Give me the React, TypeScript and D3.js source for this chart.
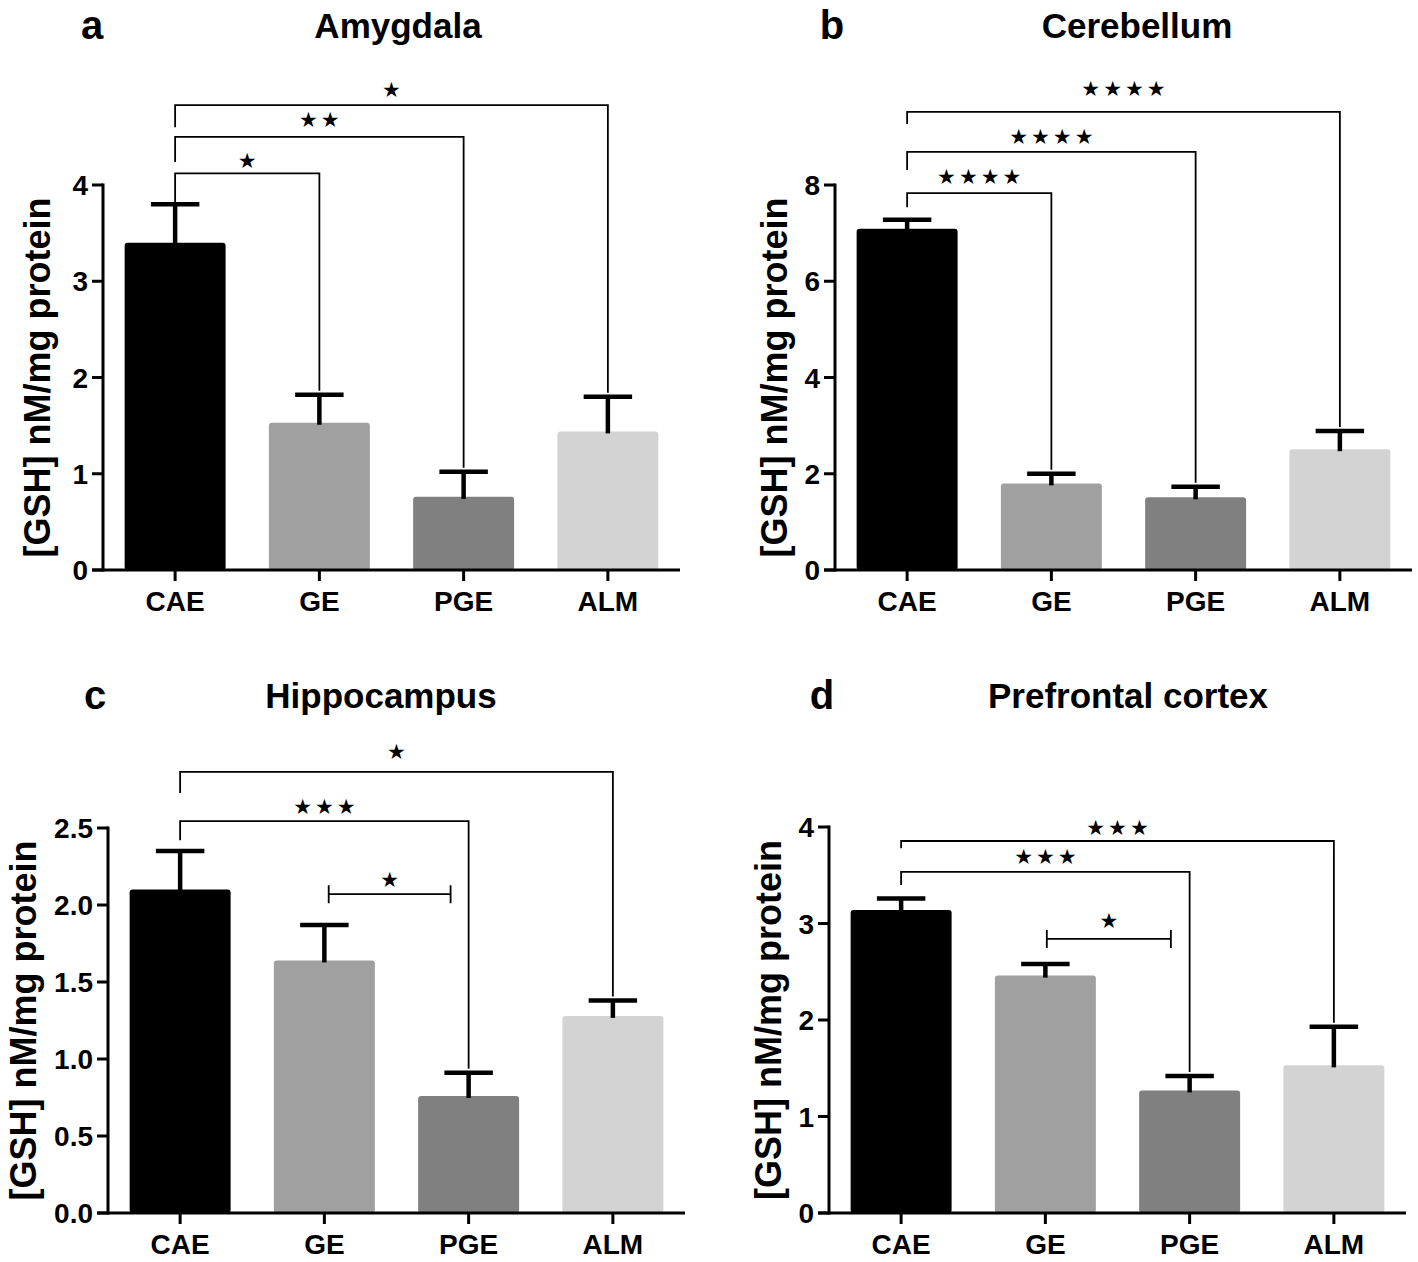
import React, { useEffect, useRef } from "react";
import * as d3 from "d3";

// groups and fill colours
const groups = ["CAE", "GE", "PGE", "ALM"];
const groupColors = ["#000000", "#a0a0a0", "#808080", "#d3d3d3"];

// mean values and mean + SEM (top of error bar), nM/mg protein
const amygdalaMeans = [3.4, 1.53, 0.76, 1.44];
const amygdalaErrTop = [3.8, 1.82, 1.02, 1.8];
const cerebellumMeans = [7.09, 1.8, 1.51, 2.51];
const cerebellumErrTop = [7.28, 2.0, 1.73, 2.89];
const hippocampusMeans = [2.1, 1.64, 0.76, 1.28];
const hippocampusErrTop = [2.35, 1.87, 0.91, 1.38];
const prefrontalMeans = [3.14, 2.46, 1.27, 1.53];
const prefrontalErrTop = [3.26, 2.58, 1.42, 1.93];

// y tick values
const amygdalaTicks = [0, 1, 2, 3, 4];
const cerebellumTicks = [0, 2, 4, 6, 8];
const hippocampusTicks = [0, 0.5, 1, 1.5, 2, 2.5];
const prefrontalTicks = [0, 1, 2, 3, 4];

// significance brackets (level / leftEnd in data units)
const amygdalaSig = [
  { from: "CAE", to: "GE", level: 4.12, leftEnd: 3.8, stars: "★", gap: 13 },
  { from: "CAE", to: "PGE", level: 4.5, leftEnd: 4.24, stars: "★★", gap: 17 },
  { from: "CAE", to: "ALM", level: 4.83, leftEnd: 4.6, stars: "★", gap: 15 },
];
const cerebellumSig = [
  { from: "CAE", to: "GE", level: 7.83, leftEnd: 7.54, stars: "★★★★", gap: 17 },
  { from: "CAE", to: "PGE", level: 8.69, leftEnd: 8.31, stars: "★★★★", gap: 15 },
  { from: "CAE", to: "ALM", level: 9.52, leftEnd: 9.27, stars: "★★★★", gap: 23 },
];
const hippocampusSig = [
  { from: "CAE", to: "PGE", level: 2.545, leftEnd: 2.42, stars: "★★★", gap: 14 },
  { from: "CAE", to: "ALM", level: 2.864, leftEnd: 2.727, stars: "★", gap: 20 },
  { from: "GE", to: "PGE", level: 2.07, stars: "★", gap: 15, flat: true, off0: 0.03, off1: -0.125 },
];
const prefrontalSig = [
  { from: "CAE", to: "PGE", level: 3.534, leftEnd: 3.4, stars: "★★★", gap: 15 },
  { from: "CAE", to: "ALM", level: 3.855, leftEnd: 3.78, stars: "★★★", gap: 13 },
  { from: "GE", to: "PGE", level: 2.84, stars: "★", gap: 18, flat: true, off0: 0.01, off1: -0.13 },
];

const panels = [
  {
    letter: "a", title: "Amygdala", means: amygdalaMeans, errTop: amygdalaErrTop,
    ticks: amygdalaTicks, fmt: d3.format("d"), sig: amygdalaSig,
    x0: 103, y0: 570, yTop: 185, w: 577, titleX: 398, titleY: 38, letterX: 92, labelOff: 53,
  },
  {
    letter: "b", title: "Cerebellum", means: cerebellumMeans, errTop: cerebellumErrTop,
    ticks: cerebellumTicks, fmt: d3.format("d"), sig: cerebellumSig,
    x0: 835, y0: 570, yTop: 185, w: 577, titleX: 1137, titleY: 38, letterX: 832, labelOff: 48,
  },
  {
    letter: "c", title: "Hippocampus", means: hippocampusMeans, errTop: hippocampusErrTop,
    ticks: hippocampusTicks, fmt: d3.format(".1f"), sig: hippocampusSig,
    x0: 108, y0: 1213, yTop: 828, w: 577, titleX: 381, titleY: 708, letterX: 95, labelOff: 72,
  },
  {
    letter: "d", title: "Prefrontal cortex", means: prefrontalMeans, errTop: prefrontalErrTop,
    ticks: prefrontalTicks, fmt: d3.format("d"), sig: prefrontalSig,
    x0: 829, y0: 1213, yTop: 827, w: 577, titleX: 1128, titleY: 708, letterX: 822, labelOff: 48,
  },
];

const FONT = "'Liberation Sans', Arial, Helvetica, sans-serif";
const STAR_SPACING = 3;

export default function App() {
  const ref = useRef<SVGSVGElement | null>(null);

  useEffect(() => {
    document.body.style.margin = "0";
    if (!ref.current) return;
    const svg = d3.select(ref.current);
    svg.selectAll("*").remove();

    panels.forEach((p) => {
      const g = svg.append("g");
      const yMax = p.ticks[p.ticks.length - 1];
      const x = d3.scaleBand<string>()
        .domain(groups)
        .range([p.x0, p.x0 + p.w])
        .paddingInner(0.3)
        .paddingOuter(0.15);
      const y = d3.scaleLinear().domain([0, yMax]).range([p.y0, p.yTop]);
      const cx = (k: string) => (x(k) as number) + x.bandwidth() / 2;
      const bw = x.bandwidth();

      // bars
      g.selectAll(".bar")
        .data(groups)
        .enter()
        .append("rect")
        .attr("x", (d) => x(d) as number)
        .attr("y", (d, i) => y(p.means[i]))
        .attr("width", bw)
        .attr("height", (d, i) => p.y0 - y(p.means[i]))
        .attr("rx", 3)
        .attr("fill", (d, i) => groupColors[i]);

      // error bars (upper only)
      groups.forEach((k, i) => {
        g.append("line")
          .attr("x1", cx(k)).attr("x2", cx(k))
          .attr("y1", y(p.means[i]) + 2).attr("y2", y(p.errTop[i]))
          .attr("stroke", "#000").attr("stroke-width", 4.5);
        g.append("line")
          .attr("x1", cx(k) - bw * 0.24).attr("x2", cx(k) + bw * 0.24)
          .attr("y1", y(p.errTop[i])).attr("y2", y(p.errTop[i]))
          .attr("stroke", "#000").attr("stroke-width", 4.5);
      });

      // significance brackets
      p.sig.forEach((s: any) => {
        const yl = y(s.level);
        let xa = cx(s.from);
        let xb = cx(s.to);
        if (s.flat) {
          xa += s.off0 * x.step();
          xb += s.off1 * x.step();
          g.append("path")
            .attr("d", `M${xa},${yl - 9}V${yl + 9}M${xa},${yl}H${xb}M${xb},${yl - 9}V${yl + 9}`)
            .attr("fill", "none").attr("stroke", "#000").attr("stroke-width", 1.8);
        } else {
          const ib = groups.indexOf(s.to);
          const rightEnd = y(p.errTop[ib]) - 4;
          g.append("path")
            .attr("d", `M${xa},${y(s.leftEnd)}V${yl}H${xb}V${rightEnd}`)
            .attr("fill", "none").attr("stroke", "#000").attr("stroke-width", 1.8);
        }
        g.append("text")
          .attr("x", (xa + xb) / 2 + STAR_SPACING / 2)
          .attr("y", yl - s.gap)
          .attr("dy", "0.35em")
          .attr("text-anchor", "middle")
          .style("font-family", "'DejaVu Sans', sans-serif")
          .style("font-size", "21px")
          .style("letter-spacing", `${STAR_SPACING}px`)
          .text(s.stars);
      });

      // y axis
      g.append("line")
        .attr("x1", p.x0).attr("x2", p.x0)
        .attr("y1", p.y0 + 1.5).attr("y2", p.yTop - 1.5)
        .attr("stroke", "#000").attr("stroke-width", 3);
      p.ticks.forEach((t) => {
        g.append("line")
          .attr("x1", p.x0 - 11).attr("x2", p.x0)
          .attr("y1", y(t)).attr("y2", y(t))
          .attr("stroke", "#000").attr("stroke-width", 3);
        g.append("text")
          .attr("x", p.x0 - 15)
          .attr("y", y(t))
          .attr("dy", "0.36em")
          .attr("text-anchor", "end")
          .style("font-family", FONT)
          .style("font-weight", "700")
          .style("font-size", "28px")
          .text(p.fmt(t));
      });

      // x axis
      g.append("line")
        .attr("x1", p.x0 - 11).attr("x2", p.x0 + p.w)
        .attr("y1", p.y0).attr("y2", p.y0)
        .attr("stroke", "#000").attr("stroke-width", 3);
      groups.forEach((k) => {
        g.append("line")
          .attr("x1", cx(k)).attr("x2", cx(k))
          .attr("y1", p.y0).attr("y2", p.y0 + 11)
          .attr("stroke", "#000").attr("stroke-width", 3);
        g.append("text")
          .attr("x", cx(k))
          .attr("y", p.y0 + 41)
          .attr("text-anchor", "middle")
          .style("font-family", FONT)
          .style("font-weight", "700")
          .style("font-size", "28px")
          .text(k);
      });

      // y label
      g.append("text")
        .attr("transform", `translate(${p.x0 - p.labelOff},${(p.y0 + p.yTop) / 2}) rotate(-90)`)
        .attr("text-anchor", "middle")
        .style("font-family", FONT)
        .style("font-weight", "700")
        .style("font-size", "36px")
        .text("[GSH] nM/mg protein");

      // title and panel letter
      g.append("text")
        .attr("x", p.titleX)
        .attr("y", p.titleY)
        .attr("text-anchor", "middle")
        .style("font-family", FONT)
        .style("font-weight", "700")
        .style("font-size", "35px")
        .text(p.title);
      g.append("text")
        .attr("x", p.letterX)
        .attr("y", p.titleY + 1)
        .attr("text-anchor", "middle")
        .style("font-family", FONT)
        .style("font-weight", "700")
        .style("font-size", "40px")
        .text(p.letter);
    });
  }, []);

  return (
    <svg
      ref={ref}
      width={1418}
      height={1262}
      style={{ display: "block", background: "#fff" }}
    />
  );
}
